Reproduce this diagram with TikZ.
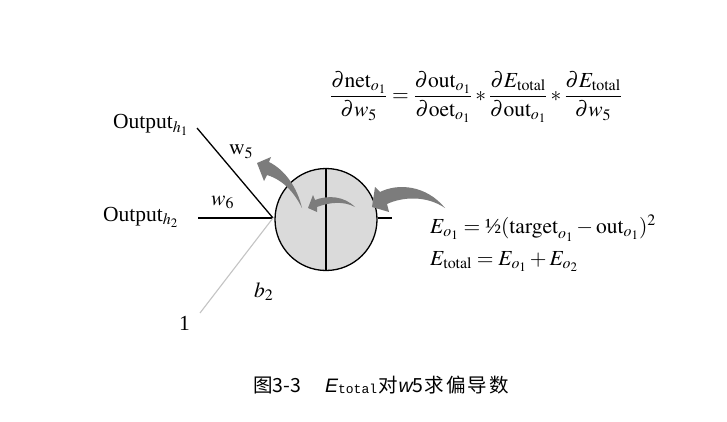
\documentclass[tikz,border=0pt]{standalone}
\usepackage{mathptmx}
\usepackage[no-math]{fontspec}
\setmainfont{Liberation Serif}
\newfontfamily\cjk{Noto Sans CJK SC}
\newfontfamily\capsans{Liberation Sans}
\newfontfamily\capmono{Liberation Mono}
\definecolor{arrowgray}{HTML}{7C7C7C}
\definecolor{cellfill}{HTML}{DADADA}
\definecolor{biasgray}{HTML}{C4C4C4}
\tikzset{
  lbl/.style={inner sep=0pt, font=\fontsize{21.5}{25}\selectfont},
  wire/.style={line width=1.3pt, black},
  fatarrow/.style={fill=arrowgray, draw=none},
}
\begin{document}
\begin{tikzpicture}[x=1pt,y=-1pt]
\path[use as bounding box, fill=white] (0,0) rectangle (727,422);

% formula
\node[lbl] (eqa) at (476,97) {$\displaystyle \frac{\partial \mathrm{net}_{o_1}}{\partial w_5}=\frac{\partial \mathrm{out}_{o_1}}{\partial \mathrm{oet}_{o_1}}*\frac{\partial E_{\mathrm{total}}}{\partial \mathrm{out}_{o_1}}*\frac{\partial E_{\mathrm{total}}}{\partial w_5}$};
\node[lbl, anchor=base west] (eqb) at (430,233) {$E_{o_1}=\mbox{½}(\mathrm{target}_{o_1}-\mathrm{out}_{o_1})^2$};
\node[lbl, anchor=base west] (eqc) at (430,265) {$E_{\mathrm{total}}=E_{o_1}+E_{o_2}$};

% neuron
\node[circle, draw, line width=1.3pt, fill=cellfill, minimum size=102pt, inner sep=0pt] (neuron) at (326,219.5) {};
\draw[wire] (neuron.north) -- (neuron.south);
\coordinate (outR) at (392,218);
\draw[wire] (neuron.east |- outR) -- (outR);

% inputs
\coordinate (j) at (273,218);
\node[lbl, anchor=base west] (oh1) at (113,129) {Output$_{h_1}$};
\node[lbl, anchor=base west] (oh2) at (103,221) {Output$_{h_2}$};
\node[lbl, anchor=base west] (one) at (179,330) {1};
\coordinate (s1) at (197,128);
\coordinate (s2) at (198,218);
\coordinate (s3) at (200,313);
\draw[wire] (s1) -- (j);
\draw[wire] (s2) -- (j);
\draw[line width=1.1pt, biasgray] (s3) -- (j);
\node[lbl, anchor=base west] (w5) at (229,155) {$\mathrm{w}_5$};
\node[lbl, anchor=base west] (w6) at (211,205) {$w_6$};
\node[lbl, anchor=base west] (b2) at (254,297) {$b_2$};

% curved arrows
\fill[fatarrow] (372,207) -- (375,187) -- (380,192) .. controls (398,183) and (426,185) .. (445,208) .. controls (426,195) and (402,197) .. (387,204) -- (389,212) -- cycle;
\fill[fatarrow] (308,208) -- (313,195) -- (315,200) .. controls (328,195) and (344,196) .. (355,207) .. controls (344,201) and (330,202) .. (317,207) -- (317,212) -- cycle;
\fill[fatarrow] (257,163) -- (271,157) -- (269,162) .. controls (285,170) and (297,187) .. (302,208) .. controls (294,192) and (283,180) .. (267,175) -- (264,181) -- cycle;

% caption
\node[inner sep=0pt, anchor=base west, font=\fontsize{19.5}{22}\selectfont] (cap) at (253,392) {{\cjk 图3-3}\hspace{24pt}{\capsans\itshape E}\raisebox{-0.2ex}{\capmono\fontsize{13}{15}\selectfont total}{\cjk\hspace{1pt}对\hspace{1pt}}{\capsans\itshape w}{\cjk 5\hspace{1pt}求\hspace{2pt}偏\hspace{2pt}导\hspace{2pt}数}};
\end{tikzpicture}
\end{document}
